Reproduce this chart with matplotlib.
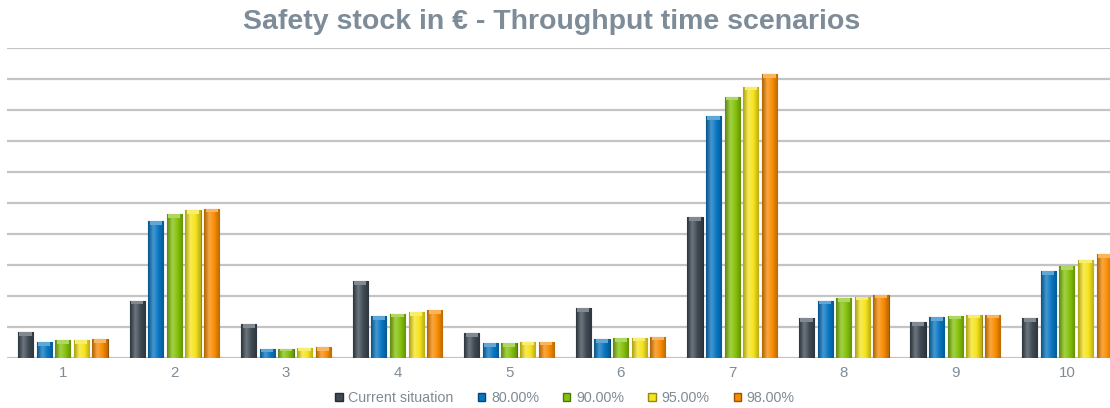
import matplotlib
matplotlib.use('Agg')
import matplotlib.pyplot as plt
import matplotlib.colors as mcolors
import numpy as np

plt.rcParams['font.family'] = ['Liberation Sans', 'DejaVu Sans']

groups = ['1', '2', '3', '4', '5', '6', '7', '8', '9', '10']
series = ['Current situation', '80.00%', '90.00%', '95.00%', '98.00%']

# safety stock per scenario (one gridline = 1 unit)
current = [0.83, 1.85, 1.10, 2.47, 0.81, 1.62, 4.55, 1.28, 1.16, 1.28]
p80 = [0.51, 4.41, 0.28, 1.34, 0.47, 0.60, 7.81, 1.85, 1.32, 2.80]
p90 = [0.57, 4.63, 0.30, 1.43, 0.49, 0.63, 8.43, 1.92, 1.37, 2.96]
p95 = [0.57, 4.78, 0.31, 1.47, 0.53, 0.66, 8.75, 1.98, 1.40, 3.17]
p98 = [0.62, 4.82, 0.34, 1.54, 0.53, 0.69, 9.16, 2.04, 1.40, 3.36]

colors = ['#3e4953', '#0877c2', '#86c20c', '#f6e41e', '#f88c02']

fig = plt.figure(figsize=(11.1, 4.08), dpi=100)
ax = fig.add_axes([7 / 1110, 1 - 358 / 408, 1109 / 1110, 310 / 408])

x = np.arange(len(groups))
pitch = 0.167
width = 0.136

def shade(c, f):
    r, g, b = mcolors.to_rgb(c)
    if f < 1:
        return (r * f, g * f, b * f)
    return (r + (1 - r) * (f - 1), g + (1 - g) * (f - 1), b + (1 - b) * (f - 1))

for i, (vals, c) in enumerate(zip([current, p80, p90, p95, p98], colors)):
    pos = x + (i - 2) * pitch
    bars = ax.bar(pos, vals, width, color=c, edgecolor=shade(c, 0.6),
                  linewidth=0.8, label=series[i], zorder=3)
    # side shading to give the bars a rounded look
    cmap = mcolors.LinearSegmentedColormap.from_list(
        'b%d' % i, [shade(c, 0.7), shade(c, 1.25), c, shade(c, 0.75)])
    grad = np.linspace(0, 1, 64).reshape(1, -1)
    for b in bars:
        bx, by = b.get_x(), b.get_y()
        bw, bh = b.get_width(), b.get_height()
        im = ax.imshow(grad, cmap=cmap, aspect='auto', zorder=3.5,
                       extent=[bx, bx + bw, by, by + bh], interpolation='bicubic')
        im.set_clip_path(b)
        # lighter top cap
        cap = min(0.12, bh * 0.3)
        ax.bar(bx + bw / 2, cap, bw * 0.8, bottom=by + bh - cap,
               color=shade(c, 1.35), linewidth=0, zorder=4)

ax.set_xlim(-0.5, 9.44)
ax.set_ylim(0, 10)
ax.set_yticks(np.arange(0, 11, 1))
ax.set_yticklabels([])
ax.tick_params(axis='y', length=0)
ax.yaxis.grid(True, color='#c4c4c4', linewidth=1.6, zorder=0)
ax.set_axisbelow(True)
ax.set_xticks(x)
ax.set_xticklabels(groups, fontsize=10.8, color='#7f8b95')
ax.tick_params(axis='x', length=0, pad=6)
for s in ax.spines.values():
    s.set_visible(False)

fig.suptitle('Safety stock in € - Throughput time scenarios', x=0.497, y=0.978,
             fontsize=20.5, fontweight='bold', color='#7d8c98')

handles = [plt.Rectangle((0, 0), 1, 1, facecolor=c, edgecolor=shade(c, 0.6)) for c in colors]
leg = fig.legend(handles, series, loc='center', bbox_to_anchor=(0.509, 0.025), ncol=5,
                 frameon=False, fontsize=10.3, handlelength=0.5, handleheight=0.5,
                 handletextpad=0.4, columnspacing=1.7)
for t in leg.get_texts():
    t.set_color('#7f8b95')

fig.savefig('out.png', dpi=100)
